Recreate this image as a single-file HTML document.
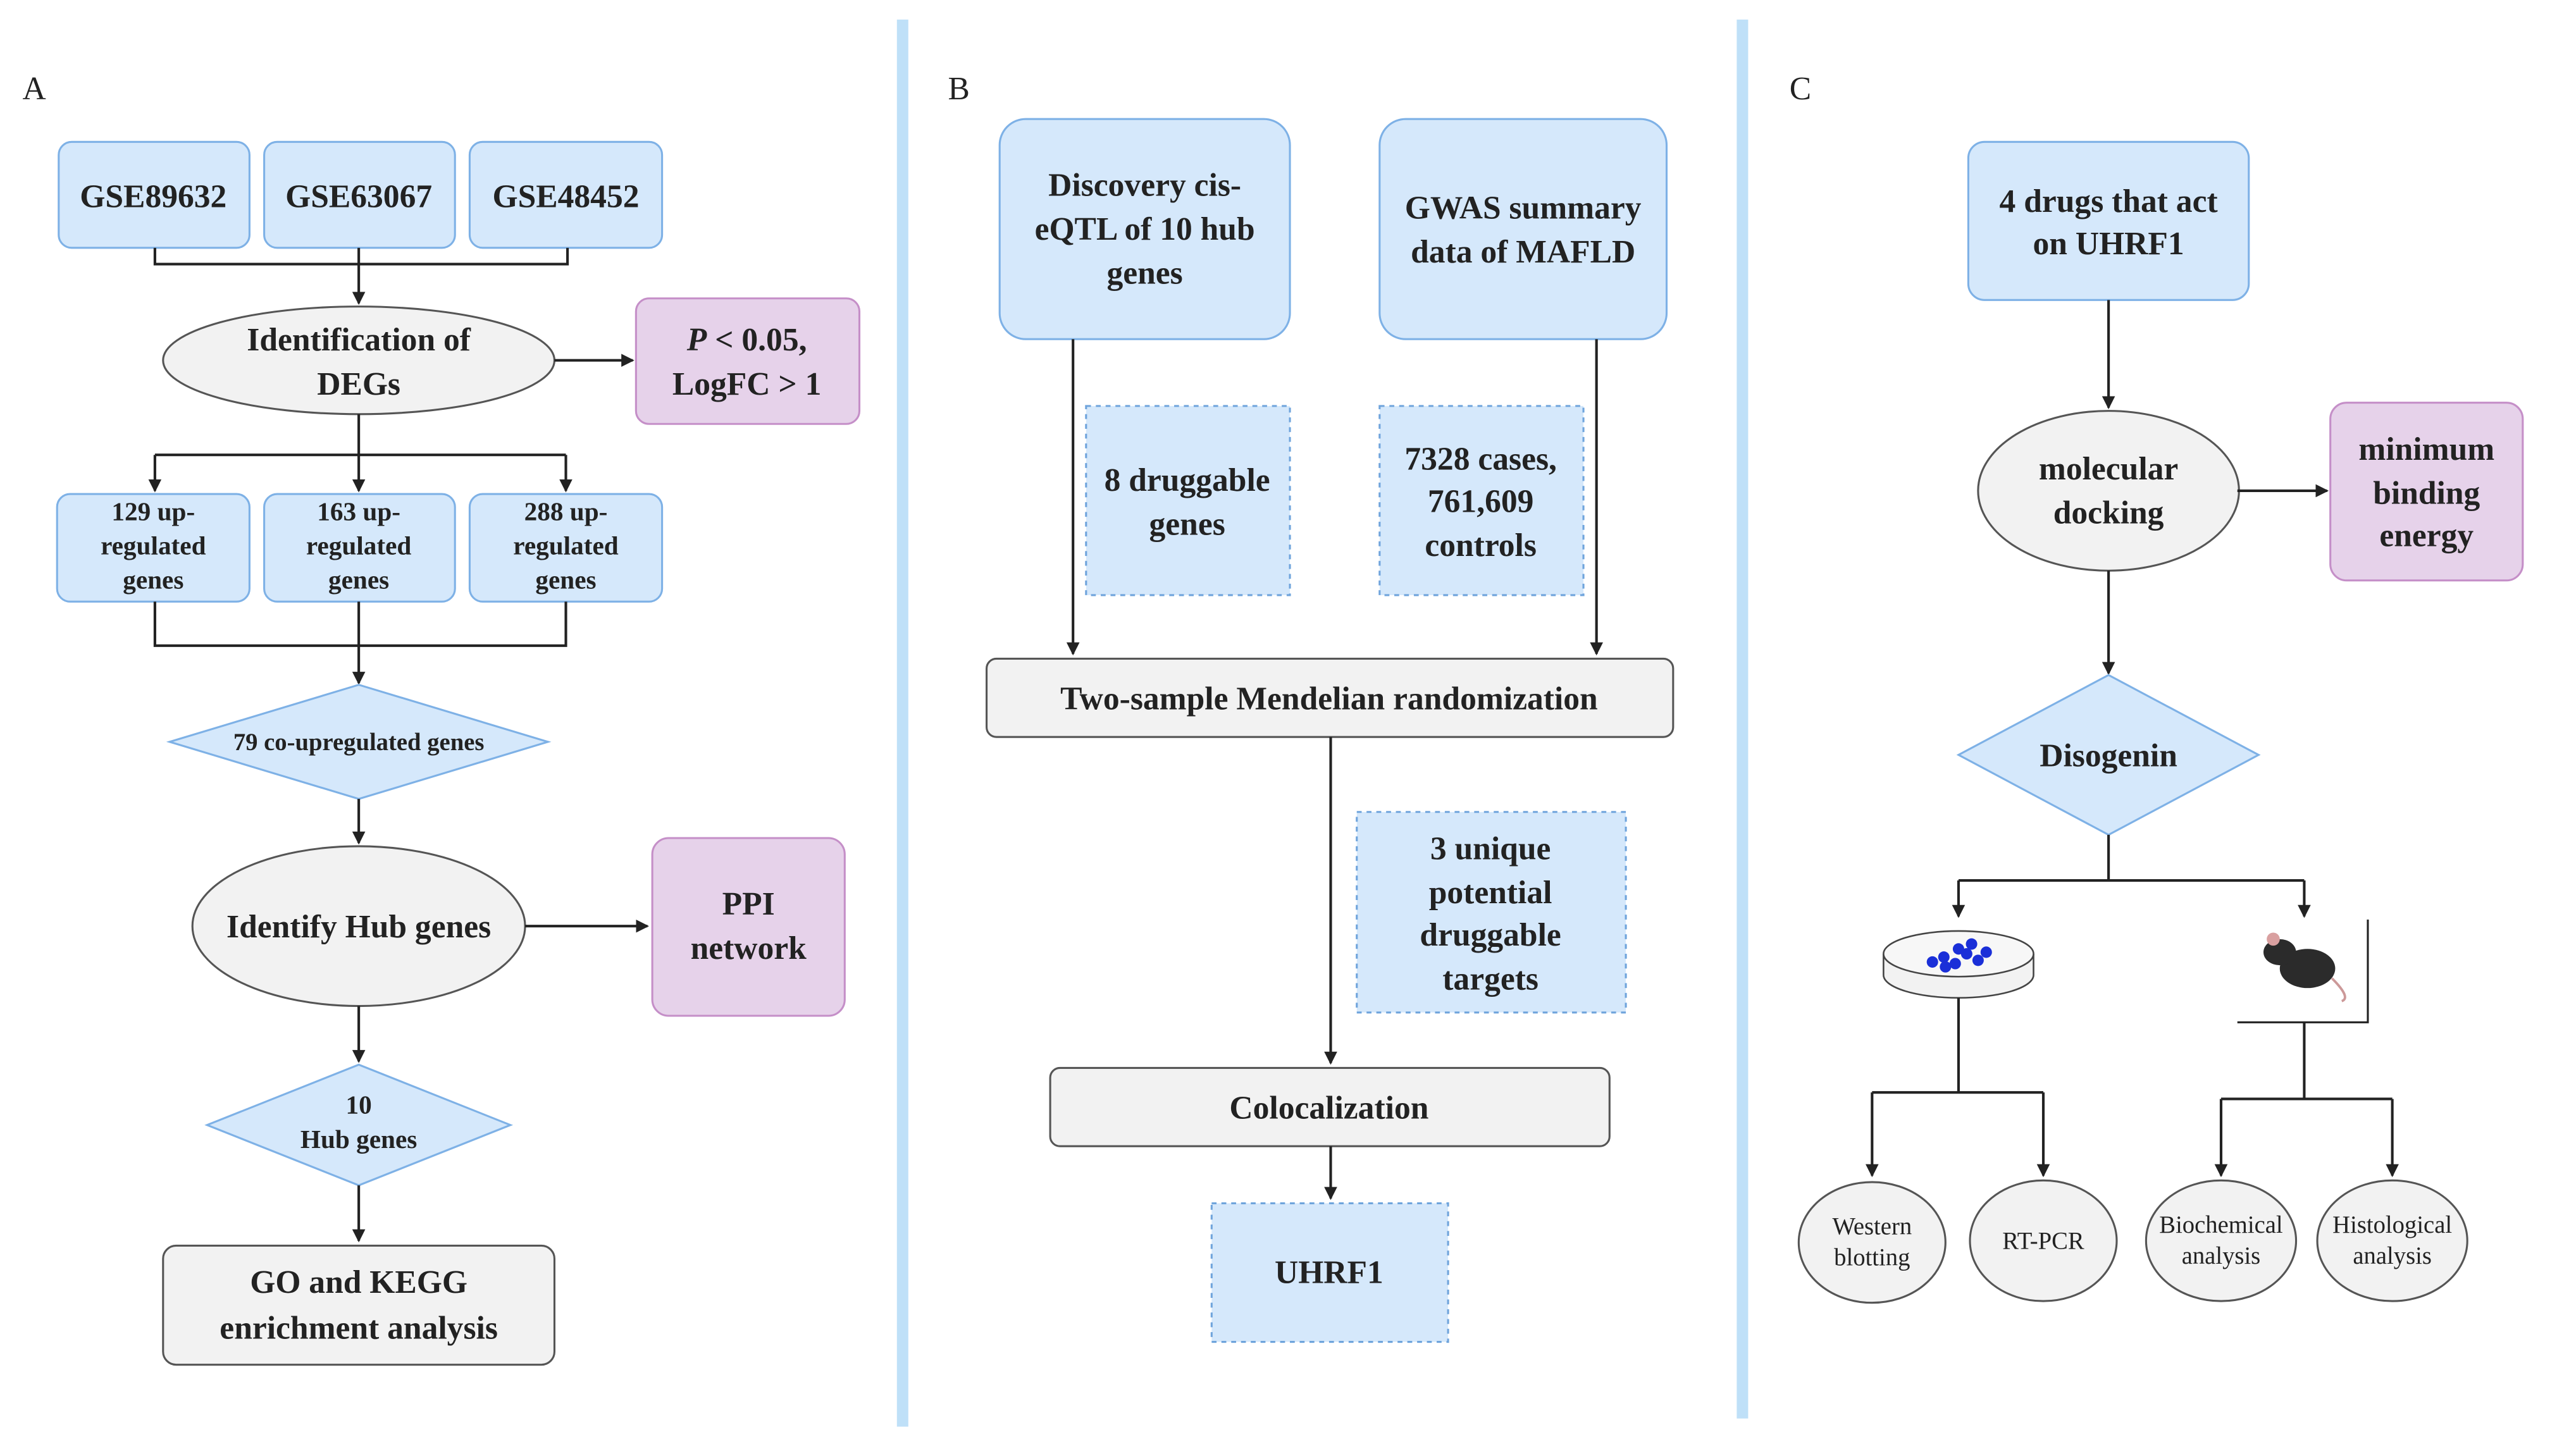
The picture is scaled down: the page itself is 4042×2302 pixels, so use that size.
<!DOCTYPE html>
<html><head><meta charset="utf-8"><style>
html,body{margin:0;padding:0;background:#fff;}
svg{display:block;}
svg text{font-family:"Liberation Serif","DejaVu Serif",serif !important;font-weight:bold;fill:#222;text-anchor:middle;}
.b{fill:#d5e8fb;stroke:#7eb1e6;stroke-width:1.2;}
.d{fill:#d5e8fb;stroke:#6fa4dc;stroke-width:1.2;stroke-dasharray:3,3;}
.p{fill:#e6d2ea;stroke:#c58fc8;stroke-width:1.2;}
.g{fill:#f2f2f2;stroke:#555;stroke-width:1.2;}
.l{fill:none;stroke:#222;stroke-width:1.6;}
</style></head><body>
<svg width="4042" height="2302" viewBox="0 0 1568 893" preserveAspectRatio="none" font-family="Liberation Serif, DejaVu Serif, serif">
<defs><marker id="a" markerWidth="8" markerHeight="8" refX="7" refY="4" orient="auto" markerUnits="userSpaceOnUse"><path d="M0,0 L8,4 L0,8 z" fill="#222"/></marker></defs>
<rect x="550" y="12" width="7" height="863" fill="#bfe0f8"/>
<rect x="1065" y="12" width="7" height="858" fill="#bfe0f8"/>
<text x="21" y="61" font-size="20" style="font-weight:normal">A</text>
<text x="588" y="61" font-size="20" style="font-weight:normal">B</text>
<text x="1104" y="61" font-size="20" style="font-weight:normal">C</text>

<!-- Panel A -->
<rect class="b" x="36" y="87" width="117" height="65" rx="8"/>
<rect class="b" x="162" y="87" width="117" height="65" rx="8"/>
<rect class="b" x="288" y="87" width="118" height="65" rx="8"/>
<text x="94" y="127" font-size="20">GSE89632</text>
<text x="220" y="127" font-size="20">GSE63067</text>
<text x="347" y="127" font-size="20">GSE48452</text>
<path class="l" d="M95,152V162H348V152M220,152V162"/>
<path class="l" d="M220,162V186" marker-end="url(#a)"/>
<ellipse class="g" cx="220" cy="221" rx="120" ry="33"/>
<text x="220" y="215" font-size="20">Identification of</text>
<text x="220" y="242" font-size="20">DEGs</text>
<path class="l" d="M340,221H388" marker-end="url(#a)"/>
<rect class="p" x="390" y="183" width="137" height="77" rx="8"/>
<text x="458" y="215" font-size="20"><tspan font-style="italic">P</tspan> &lt; 0.05,</text>
<text x="458" y="242" font-size="20">LogFC &gt; 1</text>
<path class="l" d="M220,254V279M95,279H347"/>
<path class="l" d="M95,279V301" marker-end="url(#a)"/>
<path class="l" d="M220,279V301" marker-end="url(#a)"/>
<path class="l" d="M347,279V301" marker-end="url(#a)"/>
<rect class="b" x="35" y="303" width="118" height="66" rx="8"/>
<rect class="b" x="162" y="303" width="117" height="66" rx="8"/>
<rect class="b" x="288" y="303" width="118" height="66" rx="8"/>
<g font-size="16">
<text x="94" y="319">129 up-</text><text x="94" y="340">regulated</text><text x="94" y="361">genes</text>
<text x="220" y="319">163 up-</text><text x="220" y="340">regulated</text><text x="220" y="361">genes</text>
<text x="347" y="319">288 up-</text><text x="347" y="340">regulated</text><text x="347" y="361">genes</text>
</g>
<path class="l" d="M95,369V396H347V369M220,369V396"/>
<path class="l" d="M220,396V419" marker-end="url(#a)"/>
<polygon class="b" points="104,455 220,420 336,455 220,490"/>
<text x="220" y="460" font-size="15">79 co-upregulated genes</text>
<path class="l" d="M220,490V517" marker-end="url(#a)"/>
<ellipse class="g" cx="220" cy="568" rx="102" ry="49"/>
<text x="220" y="575" font-size="20">Identify Hub genes</text>
<path class="l" d="M322,568H397" marker-end="url(#a)"/>
<rect class="p" x="400" y="514" width="118" height="109" rx="10"/>
<text x="459" y="561" font-size="20">PPI</text>
<text x="459" y="588" font-size="20">network</text>
<path class="l" d="M220,617V651" marker-end="url(#a)"/>
<polygon class="b" points="127,690 220,653 313,690 220,727"/>
<text x="220" y="683" font-size="16">10</text>
<text x="220" y="704" font-size="16">Hub genes</text>
<path class="l" d="M220,727V761" marker-end="url(#a)"/>
<rect class="g" x="100" y="764" width="240" height="73" rx="8"/>
<text x="220" y="793" font-size="20">GO and KEGG</text>
<text x="220" y="821" font-size="20">enrichment analysis</text>

<!-- Panel B -->
<rect class="b" x="613" y="73" width="178" height="135" rx="16"/>
<text x="702" y="120" font-size="20">Discovery cis-</text>
<text x="702" y="147" font-size="20">eQTL of 10 hub</text>
<text x="702" y="174" font-size="20">genes</text>
<rect class="b" x="846" y="73" width="176" height="135" rx="16"/>
<text x="934" y="134" font-size="20">GWAS summary</text>
<text x="934" y="161" font-size="20">data of MAFLD</text>
<rect class="d" x="666" y="249" width="125" height="116"/>
<text x="728" y="301" font-size="20">8 druggable</text>
<text x="728" y="328" font-size="20">genes</text>
<rect class="d" x="846" y="249" width="125" height="116"/>
<text x="908" y="288" font-size="20">7328 cases,</text>
<text x="908" y="314" font-size="20">761,609</text>
<text x="908" y="341" font-size="20">controls</text>
<path class="l" d="M658,208V401" marker-end="url(#a)"/>
<path class="l" d="M979,208V401" marker-end="url(#a)"/>
<rect class="g" x="605" y="404" width="421" height="48" rx="6"/>
<text x="815" y="435" font-size="20">Two-sample Mendelian randomization</text>
<path class="l" d="M816,452V652" marker-end="url(#a)"/>
<rect class="d" x="832" y="498" width="165" height="123"/>
<text x="914" y="527" font-size="20">3 unique</text>
<text x="914" y="554" font-size="20">potential</text>
<text x="914" y="580" font-size="20">druggable</text>
<text x="914" y="607" font-size="20">targets</text>
<rect class="g" x="644" y="655" width="343" height="48" rx="6"/>
<text x="815" y="686" font-size="20">Colocalization</text>
<path class="l" d="M816,703V735" marker-end="url(#a)"/>
<rect class="d" x="743" y="738" width="145" height="85"/>
<text x="815" y="787" font-size="20">UHRF1</text>

<!-- Panel C -->
<rect class="b" x="1207" y="87" width="172" height="97" rx="10"/>
<text x="1293" y="130" font-size="20">4 drugs that act</text>
<text x="1293" y="156" font-size="20">on UHRF1</text>
<path class="l" d="M1293,184V250" marker-end="url(#a)"/>
<ellipse class="g" cx="1293" cy="301" rx="80" ry="49"/>
<text x="1293" y="294" font-size="20">molecular</text>
<text x="1293" y="321" font-size="20">docking</text>
<path class="l" d="M1372,301H1427" marker-end="url(#a)"/>
<rect class="p" x="1429" y="247" width="118" height="109" rx="10"/>
<text x="1488" y="282" font-size="20">minimum</text>
<text x="1488" y="309" font-size="20">binding</text>
<text x="1488" y="335" font-size="20">energy</text>
<path class="l" d="M1293,350V413" marker-end="url(#a)"/>
<polygon class="b" points="1201,463 1293,414 1385,463 1293,512"/>
<text x="1293" y="470" font-size="20">Disogenin</text>
<path class="l" d="M1293,512V540M1201,540H1413"/>
<path class="l" d="M1201,540V562" marker-end="url(#a)"/>
<path class="l" d="M1413,540V562" marker-end="url(#a)"/>
<path d="M1155,585V598A46,14 0 0 0 1247,598V585" fill="#f2f2f2" stroke="#444" stroke-width="1"/>
<ellipse cx="1201" cy="585" rx="46" ry="14" fill="#f7f7f7" stroke="#444" stroke-width="1"/>
<g fill="#1a2fd8">
<circle cx="1185" cy="590" r="3.5"/><circle cx="1192" cy="587" r="3.5"/><circle cx="1199" cy="591" r="3.5"/><circle cx="1206" cy="585" r="3.5"/><circle cx="1213" cy="589" r="3.5"/><circle cx="1201" cy="582" r="3.5"/><circle cx="1209" cy="579" r="3.5"/><circle cx="1218" cy="584" r="3.5"/><circle cx="1193" cy="593" r="3.5"/>
</g>
<ellipse cx="1415" cy="594" rx="17" ry="12" fill="#2b2b2b"/>
<ellipse cx="1398" cy="584" rx="10" ry="8" fill="#2b2b2b"/>
<circle cx="1394" cy="576" r="4" fill="#d9a0a0"/>
<path d="M1430,600Q1442,612 1436,614" stroke="#c99" stroke-width="1.5" fill="none"/>
<path d="M1452,564V627H1372" class="l" style="stroke-width:1.2"/>
<path class="l" d="M1201,612V670M1148,670H1253M1413,627V674M1362,674H1467"/>
<path class="l" d="M1148,670V721" marker-end="url(#a)"/>
<path class="l" d="M1253,670V721" marker-end="url(#a)"/>
<path class="l" d="M1362,674V721" marker-end="url(#a)"/>
<path class="l" d="M1467,674V721" marker-end="url(#a)"/>
<ellipse class="g" cx="1148" cy="762" rx="45" ry="37"/><ellipse class="g" cx="1253" cy="761" rx="45" ry="37"/><ellipse class="g" cx="1362" cy="761" rx="46" ry="37"/><ellipse class="g" cx="1467" cy="761" rx="46" ry="37"/>
<g font-size="15">
<text x="1148" y="757" style="font-weight:normal">Western</text><text x="1148" y="776" style="font-weight:normal">blotting</text>
<text x="1253" y="766" style="font-weight:normal">RT-PCR</text>
<text x="1362" y="756" style="font-weight:normal">Biochemical</text><text x="1362" y="775" style="font-weight:normal">analysis</text>
<text x="1467" y="756" style="font-weight:normal">Histological</text><text x="1467" y="775" style="font-weight:normal">analysis</text>
</g>
</svg>
</body></html>
